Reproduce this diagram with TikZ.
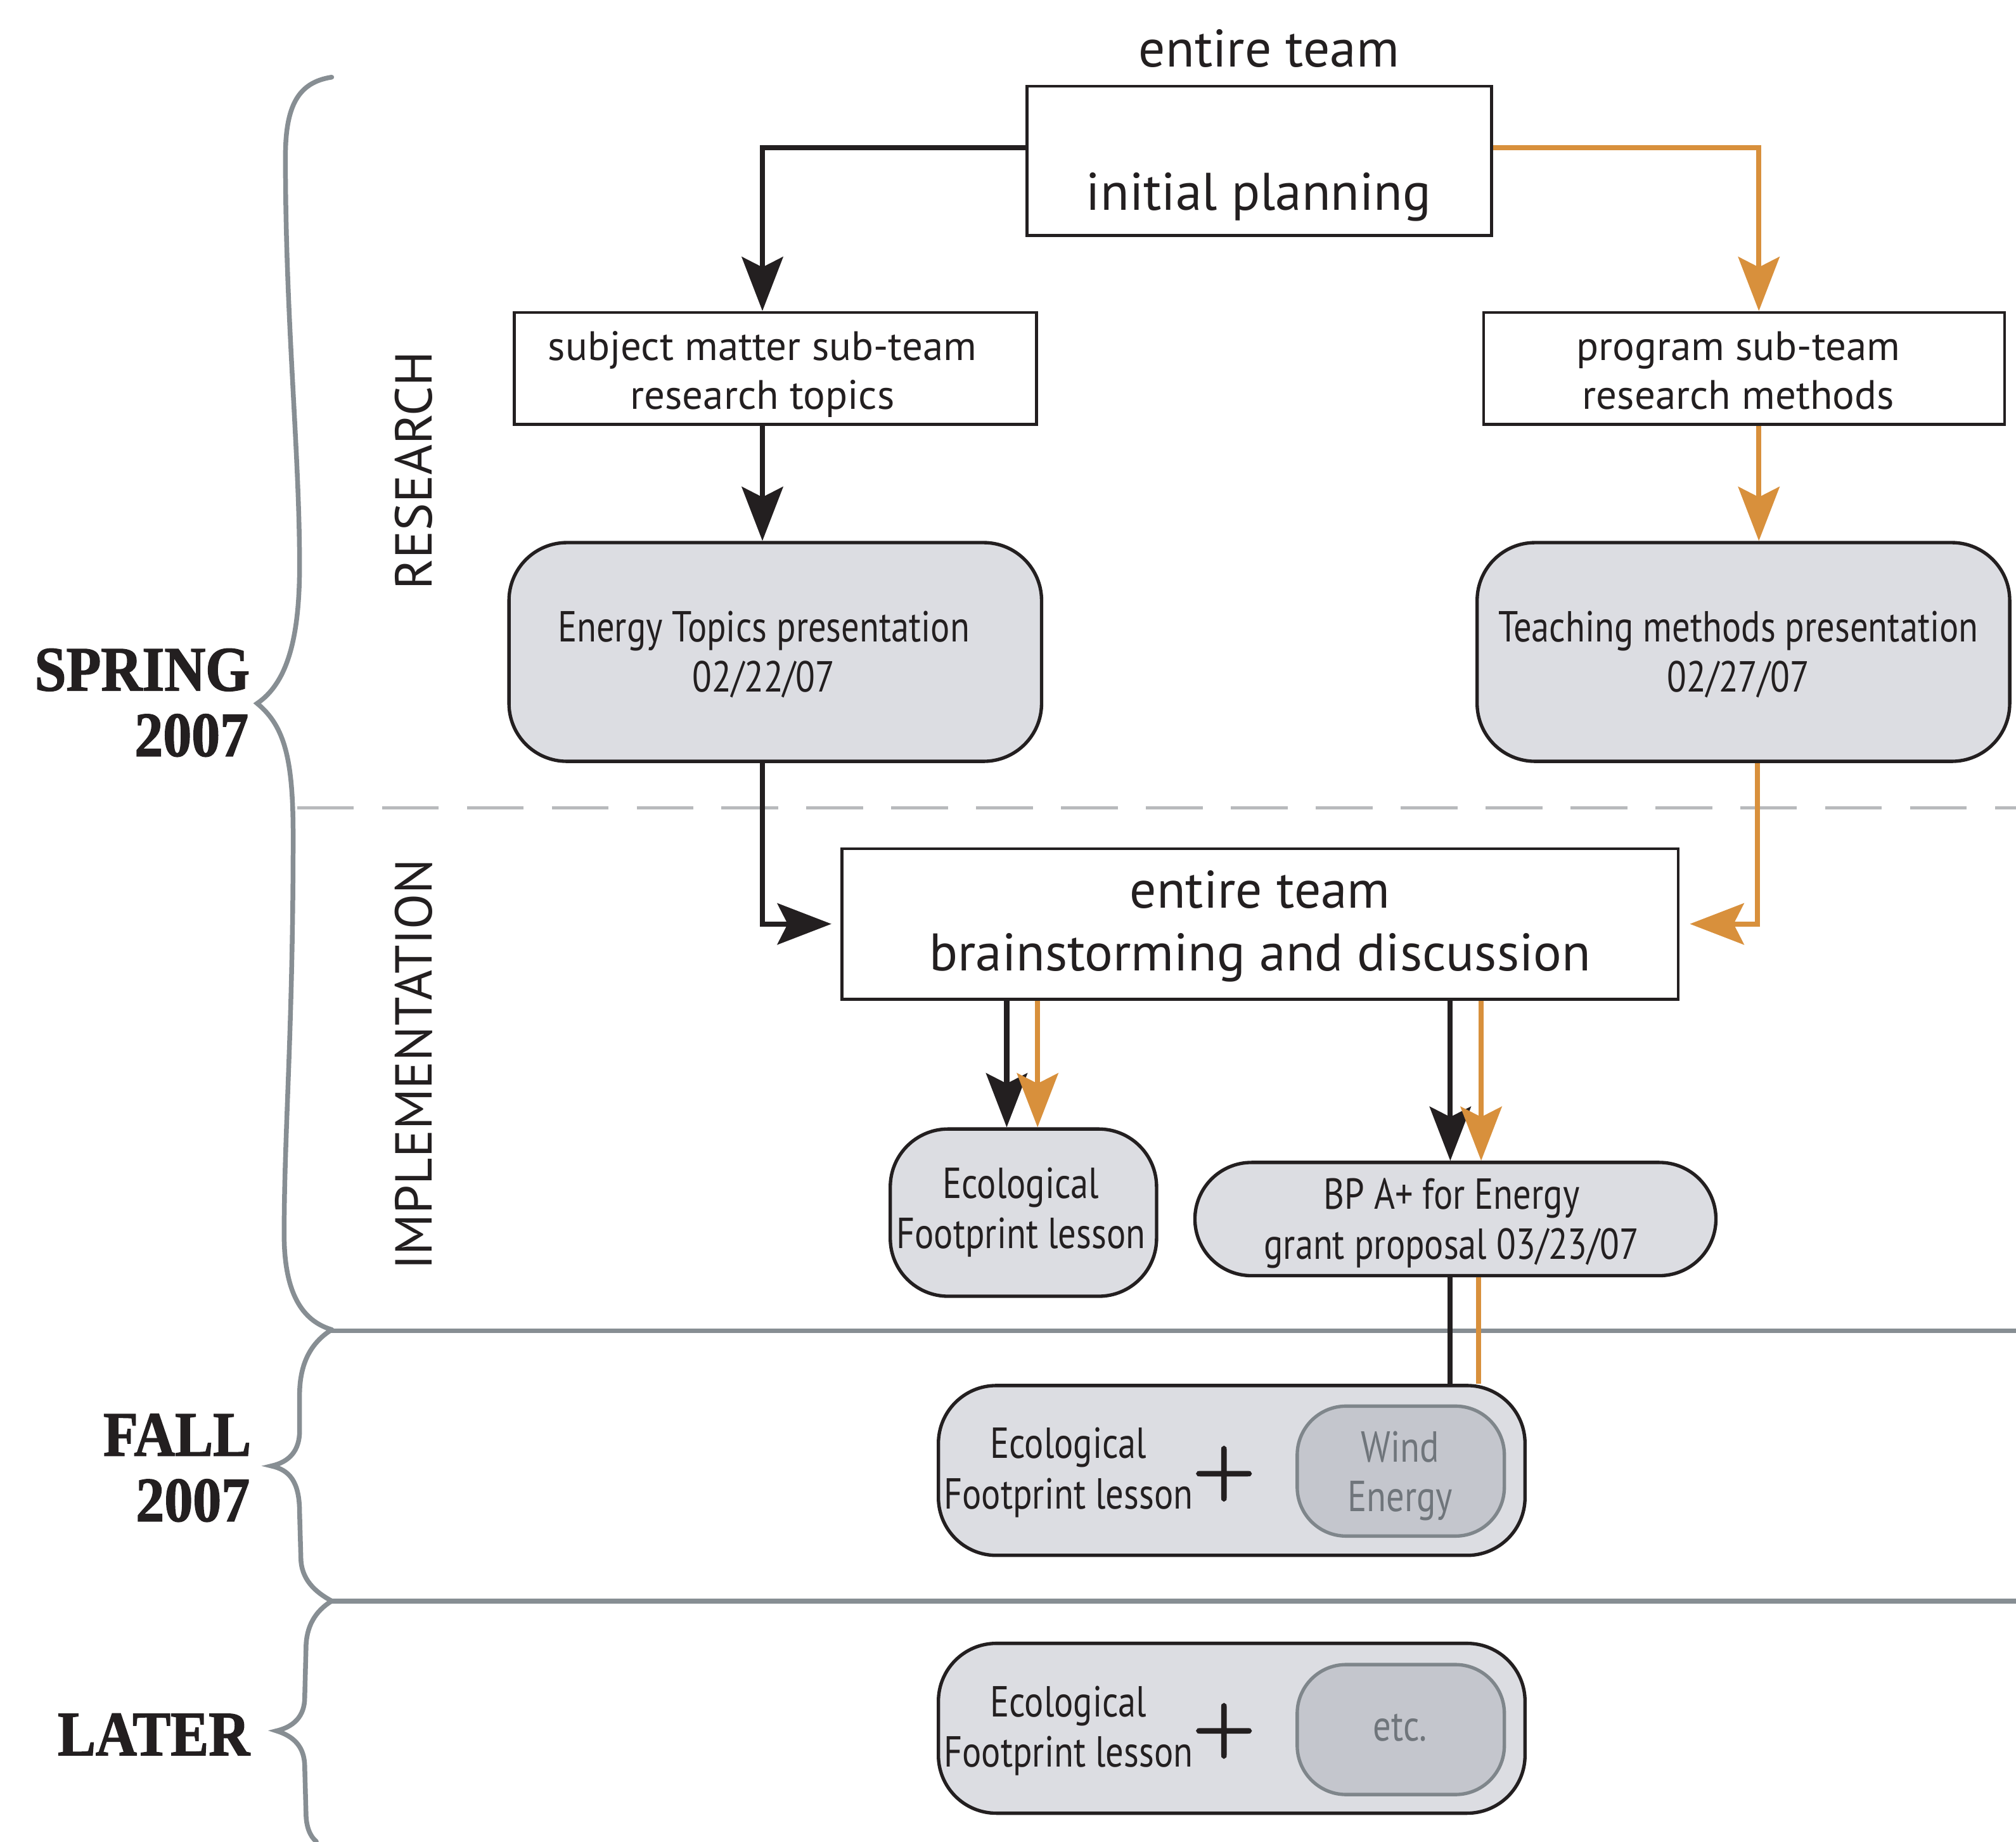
\documentclass[tikz,border=0pt]{standalone}
\usepackage{fontspec}
\setmainfont{PT Sans}
\newfontfamily\condf[FakeStretch=0.825]{PT Sans}
\newfontfamily\stencilf[FakeStretch=0.9, BoldFeatures={FakeBold=1.5}]{Liberation Serif}
\newfontfamily\plusfont[FakeBold=3]{Latin Modern Roman}
\usetikzlibrary{arrows.meta}
\definecolor{ink}{HTML}{231F20}
\definecolor{orng}{HTML}{D8903C}
\definecolor{brgray}{HTML}{878E93}
\definecolor{boxfill}{HTML}{DCDDE2}
\definecolor{innerfill}{HTML}{C4C6CD}
\definecolor{innerdraw}{HTML}{7F868B}
\definecolor{innertext}{HTML}{6F757B}
\definecolor{dashgray}{HTML}{B8BABC}
\begin{document}
\begin{tikzpicture}[x=0.01cm,y=-0.01cm,
  plainbox/.style={draw=ink, line width=0.65pt, fill=white, inner sep=0pt},
  graybox/.style={draw=ink, line width=0.75pt, fill=boxfill, inner sep=0pt},
  innerbox/.style={draw=innerdraw, line width=0.75pt, fill=innerfill, inner sep=0pt, rounded corners=0.38cm},
  blk/.style={draw=ink, line width=1.15pt},
  org/.style={draw=orng, line width=1.15pt},
  arrowhd/.style={-{Stealth[length=0.42cm,width=0.32cm,inset=0.08cm]}},
  bigtxt/.style={font=\fontsize{11.7}{14}\selectfont, text=ink, inner sep=0pt, anchor=base},
  medtxt/.style={font=\fontsize{9.1}{11}\selectfont, text=ink, inner sep=0pt, anchor=base},
  condtxt/.style={font=\condf\fontsize{9.6}{11}\selectfont, text=ink, inner sep=0pt, anchor=base},
  graytxt/.style={font=\condf\fontsize{9.6}{11}\selectfont, text=innertext, inner sep=0pt, anchor=base},
  plustxt/.style={font=\plusfont\fontsize{18.7}{20}\selectfont, text=ink, inner sep=0pt},
  seasontxt/.style={font=\stencilf\bfseries\fontsize{14}{16}\selectfont, text=ink, inner sep=0pt, anchor=base east},
  phasetxt/.style={font=\fontsize{11.5}{14}\selectfont, text=ink, inner sep=0pt, rotate=90, anchor=base},
  bracepath/.style={draw=brgray, line width=1.05pt, line cap=round},
  sepline/.style={draw=brgray, line width=1.05pt},
  dashline/.style={draw=dashgray, line width=0.7pt, dash pattern=on 0.44cm off 0.22cm}
]
\useasboundingbox (0,0) rectangle (1568,1432);

% separators
\coordinate (dashL) at (231,628);
\coordinate (dashR) at (1568,628);
\draw[dashline] (dashL) -- (dashR);
\coordinate (sepAL) at (257,1035);
\coordinate (sepAR) at (1568,1035);
\coordinate (sepBL) at (257,1245);
\coordinate (sepBR) at (1568,1245);
\draw[sepline] (sepAL) -- (sepAR);
\draw[sepline] (sepBL) -- (sepBR);

% braces
\draw[bracepath] (258,60) .. controls (232,64) and (222,82) .. (222,122)
  .. controls (222,250) and (233,350) .. (233,440)
  .. controls (233,500) and (222,532) .. (200,547)
  .. controls (222,565) and (228,592) .. (228,650)
  .. controls (228,800) and (221,880) .. (221,960)
  .. controls (221,1010) and (238,1028) .. (258,1034);
\draw[bracepath] (258,1034) .. controls (242,1044) and (233,1060) .. (233,1085)
  -- (233,1113) .. controls (233,1128) and (225,1137) .. (211,1140)
  .. controls (225,1143) and (233,1152) .. (233,1176)
  -- (234,1211) .. controls (234,1228) and (245,1238) .. (258,1245);
\draw[bracepath] (258,1245) .. controls (245,1253) and (238,1265) .. (238,1282)
  -- (237,1320) .. controls (237,1335) and (228,1343) .. (215,1346)
  .. controls (228,1350) and (237,1358) .. (237,1374)
  -- (238,1410) .. controls (238,1420) and (241,1428) .. (246,1432);

% season labels
\node[seasontxt] (spring1) at (195,537) {SPRING};
\node[seasontxt] (spring2) at (194,588) {2007};
\node[seasontxt] (fall1) at (196,1132) {FALL};
\node[seasontxt] (fall2) at (195,1183) {2007};
\node[seasontxt] (later1) at (195,1365) {LATER};

% phase labels
\node[phasetxt] (research) at (336,366) {RESEARCH};
\node[phasetxt] (implem) at (336,828) {IMPLEMENTATION};

% boxes
\node[plainbox, minimum width=3.61cm, minimum height=1.16cm] (plan) at (979.5,125) {};
\node[plainbox, minimum width=4.06cm, minimum height=0.87cm] (subj) at (603,286.5) {};
\node[plainbox, minimum width=4.05cm, minimum height=0.87cm] (prog) at (1356.5,286.5) {};
\node[graybox, rounded corners=0.45cm, minimum width=4.14cm, minimum height=1.70cm] (energy) at (603,507) {};
\node[graybox, rounded corners=0.45cm, minimum width=4.14cm, minimum height=1.70cm] (teach) at (1356,507) {};
\node[plainbox, minimum width=6.50cm, minimum height=1.17cm] (brain) at (980,718.5) {};
\node[graybox, rounded corners=0.45cm, minimum width=2.07cm, minimum height=1.30cm] (eco) at (796,943) {};
\node[graybox, rounded corners=0.44cm, minimum width=4.05cm, minimum height=0.88cm] (bp) at (1132,948) {};
\node[graybox, rounded corners=0.45cm, minimum width=4.56cm, minimum height=1.32cm] (fall) at (958,1143.5) {};
\node[innerbox, minimum width=1.61cm, minimum height=1.01cm] (wind) at (1089.5,1144) {};
\node[graybox, rounded corners=0.45cm, minimum width=4.56cm, minimum height=1.32cm] (later) at (958,1344) {};
\node[innerbox, minimum width=1.61cm, minimum height=1.01cm] (etcbox) at (1089.5,1345) {};

% texts
\node[bigtxt] (topteam) at (987,52) {entire team};
\node[bigtxt] (plantxt) at (979,163.5) {initial planning};
\node[medtxt] (subj1) at (593,280) {subject matter sub-team};
\node[medtxt] (subj2) at (593,318) {research topics};
\node[medtxt] (prog1) at (1352,280) {program sub-team};
\node[medtxt] (prog2) at (1352,318) {research methods};
\node[condtxt] (en1) at (594,499) {Energy Topics presentation};
\node[condtxt] (en2) at (594,538) {02/22/07};
\node[condtxt] (te1) at (1352,499) {Teaching methods presentation};
\node[condtxt] (te2) at (1352,538) {02/27/07};
\node[bigtxt] (br1) at (980,706) {entire team};
\node[bigtxt] (br2) at (980,755) {brainstorming and discussion};
\node[condtxt] (eco1) at (794,932) {Ecological};
\node[condtxt] (eco2) at (794,971) {Footprint lesson};
\node[condtxt] (bp1) at (1129,940) {BP A+ for Energy};
\node[condtxt] (bp2) at (1129,979) {grant proposal 03/23/07};
\node[condtxt] (fa1) at (831,1134) {Ecological};
\node[condtxt] (fa2) at (831,1173.5) {Footprint lesson};
\node[plustxt] (plus1) at (952,1146) {+};
\node[graytxt] (wi1) at (1089,1137) {Wind};
\node[graytxt] (wi2) at (1089,1175.5) {Energy};
\node[condtxt] (la1) at (831,1335) {Ecological};
\node[condtxt] (la2) at (831,1374) {Footprint lesson};
\node[plustxt] (plus2) at (952,1346) {+};
\node[graytxt] (etctxt) at (1089,1354) {etc.};

% connectors
\draw[blk, arrowhd] ([yshift=0.1cm]plan.west) -| ([xshift=-0.1cm]subj.north);
\draw[org, arrowhd] ([yshift=0.1cm]plan.east) -| ([xshift=0.115cm]prog.north);
\draw[blk, arrowhd] ([xshift=-0.1cm]subj.south) -- ([xshift=-0.1cm]subj.south |- energy.north);
\draw[org, arrowhd] ([xshift=0.115cm]prog.south) -- ([xshift=0.115cm]prog.south |- teach.north);
\draw[blk, arrowhd, shorten >=0.07cm] ([xshift=-0.1cm]energy.south) |- (brain.west);
\draw[org, arrowhd, shorten >=0.08cm] ([xshift=0.11cm]teach.south) |- (brain.east);
\draw[blk, arrowhd] ([xshift=-0.13cm]eco.north |- brain.south) -- ([xshift=-0.13cm]eco.north);
\draw[org, arrowhd] ([xshift=0.11cm]eco.north |- brain.south) -- ([xshift=0.11cm]eco.north);
\draw[blk, arrowhd] ([xshift=-0.04cm]bp.north |- brain.south) -- ([xshift=-0.04cm]bp.north);
\draw[org, arrowhd] ([xshift=0.2cm]bp.north |- brain.south) -- ([xshift=0.2cm]bp.north);
\draw[blk] ([xshift=-0.04cm]bp.south) -- ([xshift=-0.04cm]bp.south |- fall.north);
\draw[org] ([xshift=0.18cm]bp.south) -- ([xshift=0.18cm]bp.south |- fall.north);
\end{tikzpicture}
\end{document}
